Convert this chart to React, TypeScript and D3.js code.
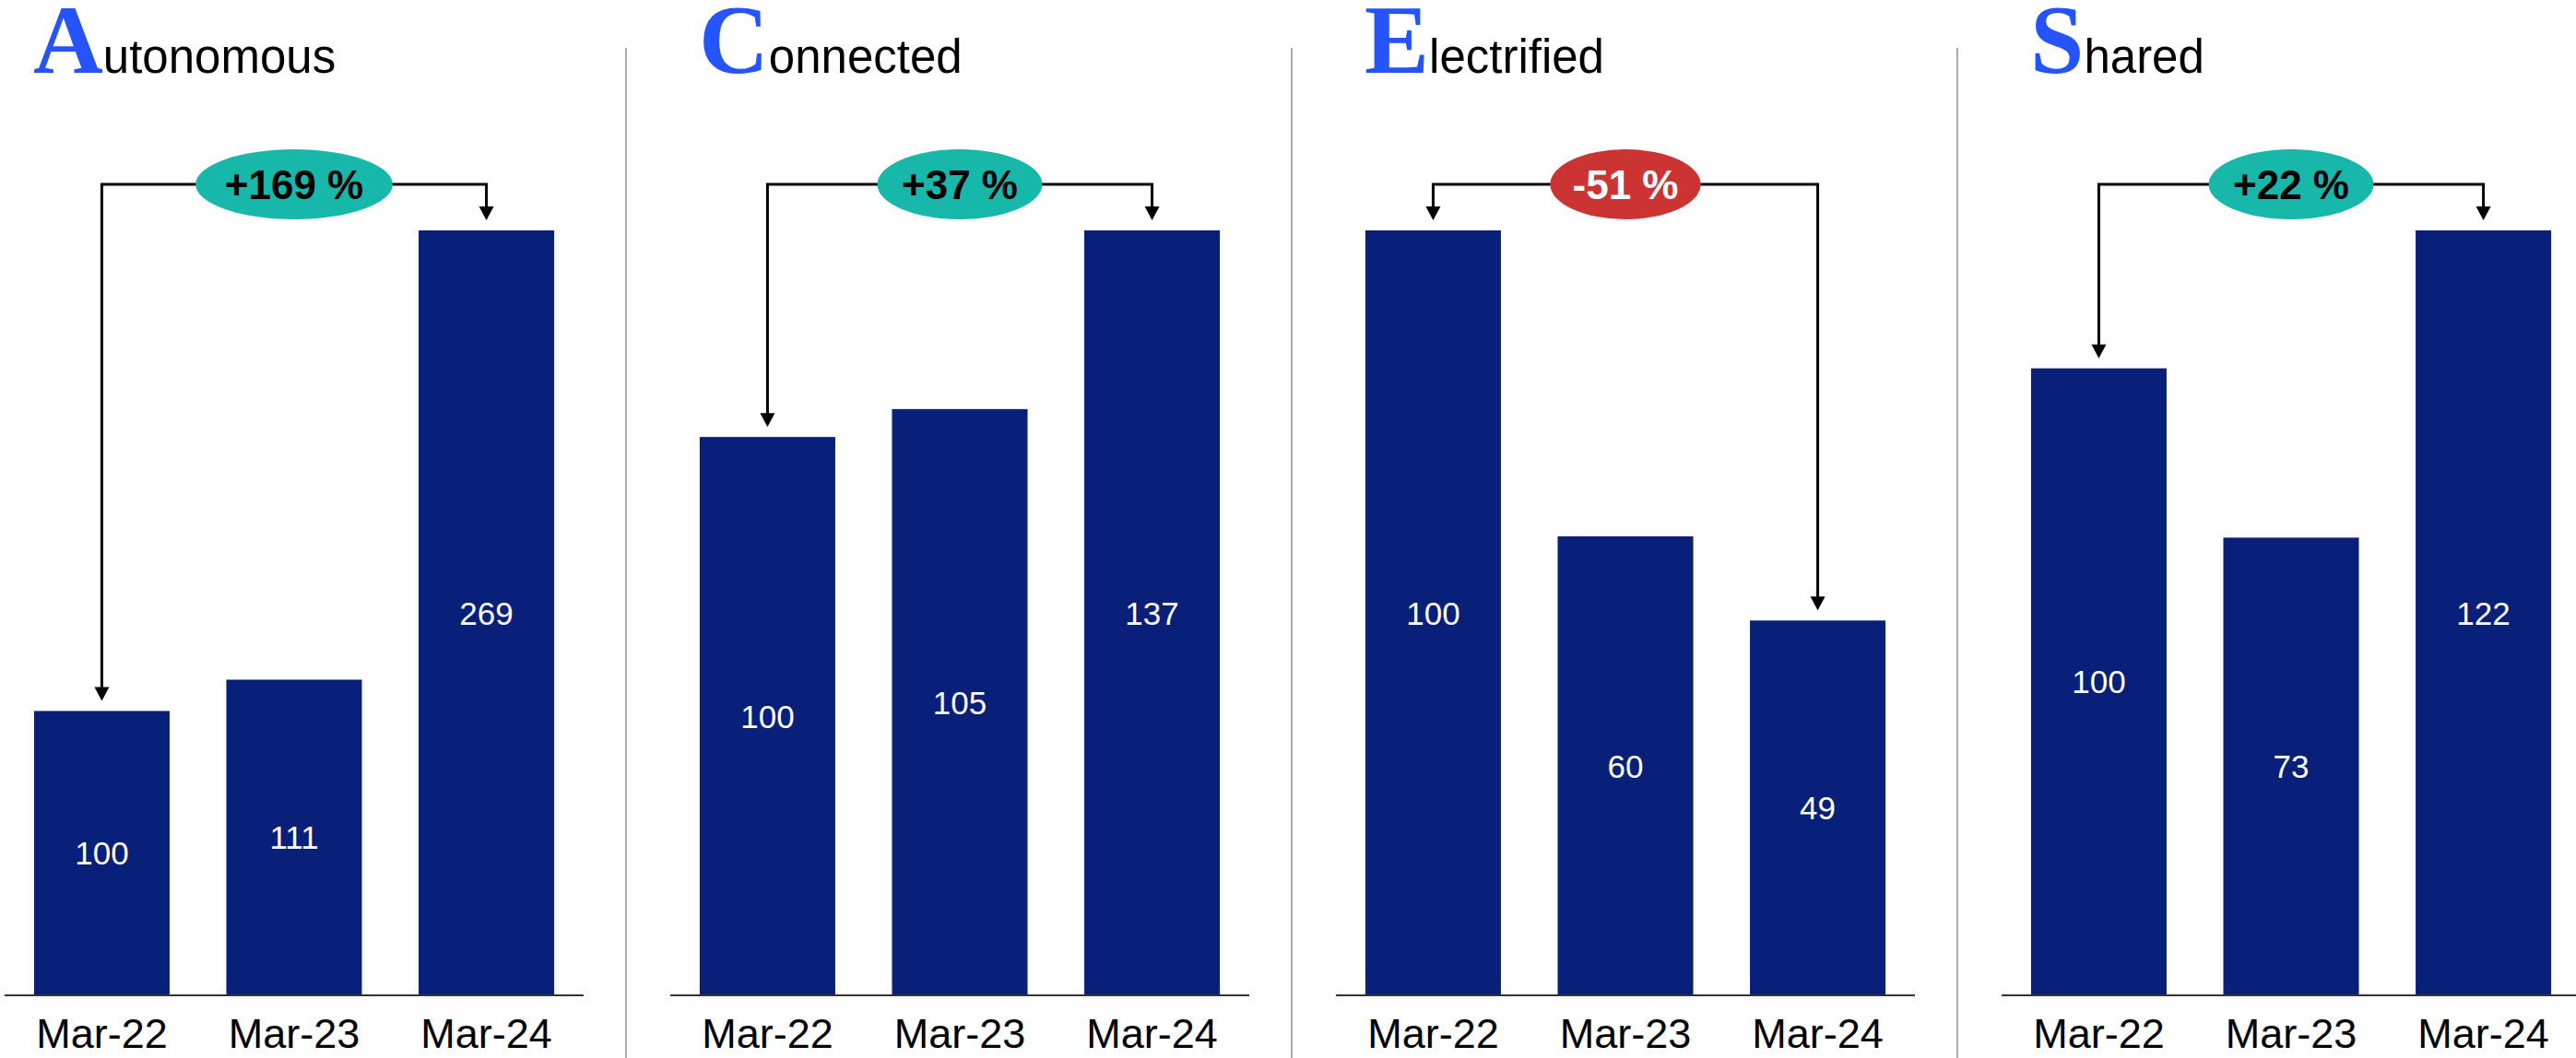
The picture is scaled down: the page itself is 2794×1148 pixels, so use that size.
import React, { useEffect, useRef } from "react";
import * as d3 from "d3";

// Index values (Mar-22 = 100) per technology segment
const periods = ["Mar-22", "Mar-23", "Mar-24"];
const segments = ["Autonomous", "Connected", "Electrified", "Shared"];
const autonomous = [100, 111, 269];
const connected = [100, 105, 137];
const electrified = [100, 60, 49];
const shared = [100, 73, 122];
const seriesValues = [autonomous, connected, electrified, shared];

const W = 2794;
const H = 1148;

const SANS = "'Liberation Sans', Arial, Helvetica, sans-serif";
const SERIF = "'Liberation Serif', 'Times New Roman', serif";
const BAR = "#08207a";
const TITLE_BLUE = "#2553fe";
const UP = "#17b8a9";
const DOWN = "#cc3333";

export default function App() {
  const ref = useRef<SVGSVGElement | null>(null);

  useEffect(() => {
    const svg = d3.select(ref.current);
    svg.selectAll("*").remove();

    const panel = d3.scaleBand<string>().domain(segments).range([0, 722 * 4]);
    const x = d3
      .scaleBand<string>()
      .domain(periods)
      .range([5, 633])
      .paddingInner(0.295)
      .paddingOuter(0.153);
    const baseY = 1080;
    const topY = 250;
    const lineY = 200;

    segments.forEach((seg, i) => {
      const vals = seriesValues[i];
      const y = d3.scaleLinear().domain([0, d3.max(vals) as number]).range([baseY, topY]);
      const g = svg.append("g").attr("transform", `translate(${panel(seg)},0)`);

      // separator to the left of every panel but the first
      if (i > 0) {
        g.append("line")
          .attr("x1", -43)
          .attr("x2", -43)
          .attr("y1", 52)
          .attr("y2", H)
          .attr("stroke", "#ababab")
          .attr("stroke-width", 2);
      }

      // title: large serif initial + sans remainder
      const t = g
        .append("text")
        .attr("x", 36)
        .attr("y", 79);
      t.append("tspan")
        .attr("font-family", SERIF)
        .attr("font-weight", "bold")
        .attr("font-size", 105)
        .attr("fill", TITLE_BLUE)
        .text(seg.charAt(0));
      t.append("tspan")
        .attr("font-family", SANS)
        .attr("font-size", 51)
        .attr("fill", "#000")
        .text(seg.slice(1));

      // bars
      g.selectAll("rect.bar")
        .data(vals)
        .join("rect")
        .attr("class", "bar")
        .attr("x", (_, j) => x(periods[j]) as number)
        .attr("width", x.bandwidth())
        .attr("y", (d) => y(d))
        .attr("height", (d) => baseY - y(d))
        .attr("fill", BAR);

      // value labels centred in bars
      g.selectAll("text.val")
        .data(vals)
        .join("text")
        .attr("class", "val")
        .attr("x", (_, j) => (x(periods[j]) as number) + x.bandwidth() / 2)
        .attr("y", (d) => (y(d) + baseY) / 2)
        .attr("dy", "0.36em")
        .attr("text-anchor", "middle")
        .attr("font-family", SANS)
        .attr("font-size", 35)
        .attr("fill", "#fff")
        .text((d) => String(d));

      // baseline
      g.append("line")
        .attr("x1", 5)
        .attr("x2", 633)
        .attr("y1", baseY)
        .attr("y2", baseY)
        .attr("stroke", "#333")
        .attr("stroke-width", 2);

      // category labels
      g.selectAll("text.cat")
        .data(periods)
        .join("text")
        .attr("class", "cat")
        .attr("x", (d) => (x(d) as number) + x.bandwidth() / 2)
        .attr("y", 1137)
        .attr("text-anchor", "middle")
        .attr("font-family", SANS)
        .attr("font-size", 45)
        .attr("fill", "#000")
        .text((d) => d);

      // change connector: first bar -> last bar
      const first = vals[0];
      const last = vals[vals.length - 1];
      const pct = Math.round((last / first - 1) * 100);
      const cx = (j: number) => (x(periods[j]) as number) + x.bandwidth() / 2;
      const x0 = cx(0);
      const x2 = cx(vals.length - 1);
      const xm = cx(1);
      const headH = 15;
      const headW = 8;

      g.append("path")
        .attr(
          "d",
          `M${x0},${y(first) - 11 - headH + 1}V${lineY}H${x2}V${y(last) - 11 - headH + 1}`
        )
        .attr("fill", "none")
        .attr("stroke", "#000")
        .attr("stroke-width", 3);

      [
        [x0, y(first) - 11],
        [x2, y(last) - 11],
      ].forEach(([ax, ay]) => {
        g.append("path")
          .attr("d", `M${ax - headW},${ay - headH}L${ax + headW},${ay - headH}L${ax},${ay}Z`)
          .attr("fill", "#000");
      });

      const label = `${pct > 0 ? "+" : ""}${pct} %`;
      const el = g
        .append("ellipse")
        .attr("cx", xm)
        .attr("cy", lineY)
        .attr("ry", 38)
        .attr("fill", pct >= 0 ? UP : DOWN);
      const txt = g
        .append("text")
        .attr("x", xm)
        .attr("y", lineY + 16)
        .attr("text-anchor", "middle")
        .attr("font-family", SANS)
        .attr("font-weight", "bold")
        .attr("font-size", 44)
        .attr("fill", pct >= 0 ? "#000" : "#fff")
        .text(label);
      const tw = (txt.node() as SVGTextElement).getComputedTextLength();
      el.attr("rx", tw * 0.71);
    });
  }, []);

  return (
    <svg
      ref={ref}
      width={W}
      height={H}
      viewBox={`0 0 ${W} ${H}`}
      style={{ position: "absolute", left: 0, top: 0, background: "#fff" }}
    />
  );
}
